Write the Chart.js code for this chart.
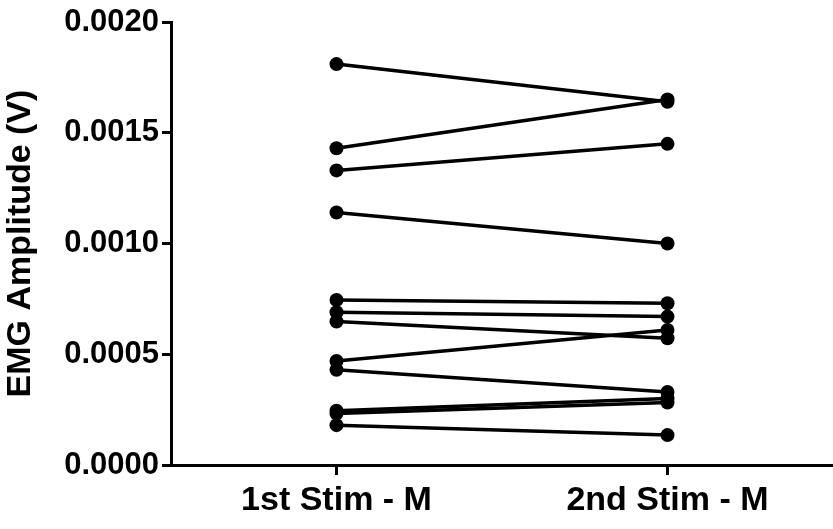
<!DOCTYPE html>
<html>
<head>
<meta charset="utf-8">
<script src="https://cdn.jsdelivr.net/npm/chart.js@4.4.1/dist/chart.umd.min.js"></script>
<style>
  html, body { margin: 0; padding: 0; background: #fff; }
  #wrap { width: 833px; height: 529px; }
</style>
</head>
<body>
<div id="wrap"><canvas id="chart" width="833" height="529"></canvas></div>
<script>
const categories = ["1st Stim - M", "2nd Stim - M"];
// one entry per subject: amplitude at 1st stim and at 2nd stim (V)
const firstStim  = [0.00181, 0.00143, 0.00133, 0.00114, 0.000745, 0.00069, 0.000648, 0.00047, 0.00043, 0.000245, 0.000232, 0.00018];
const secondStim = [0.00164, 0.00165, 0.00145, 0.00100, 0.00073, 0.00067, 0.000572, 0.00061, 0.00033, 0.000300, 0.000282, 0.000135];
const yTicks = [0, 0.0005, 0.0010, 0.0015, 0.0020];

const font = "'Liberation Sans', Arial, sans-serif";

const datasets = firstStim.map((v, i) => ({
  data: [v, secondStim[i]],
  borderColor: "#000",
  backgroundColor: "#000",
  borderWidth: 3.5,
  pointRadius: 7,
  pointHoverRadius: 7,
  pointBorderWidth: 0,
  tension: 0,
  clip: false,
}));

new Chart(document.getElementById("chart").getContext("2d"), {
  type: "line",
  data: { labels: categories, datasets },
  options: {
    responsive: false,
    animation: false,
    layout: { autoPadding: false, padding: { top: 22, right: 0, left: 0, bottom: 0 } },
    plugins: { legend: { display: false }, tooltip: { enabled: false } },
    scales: {
      x: {
        offset: true,
        grid: { offset: false, drawOnChartArea: false, drawTicks: true, tickLength: 10, lineWidth: 3, color: "#000" },
        border: { display: true, width: 3, color: "#000" },
        ticks: { color: "#000", padding: 5, font: { family: font, weight: "bold", size: 34 } },
        afterFit: s => { s.height = 64; },
      },
      y: {
        min: 0,
        max: 0.002,
        afterBuildTicks: s => { s.ticks = yTicks.map(v => ({ value: v })); },
        grid: { drawOnChartArea: false, drawTicks: true, tickLength: 9, lineWidth: 3, color: "#000" },
        border: { display: true, width: 3, color: "#000" },
        ticks: { color: "#000", padding: 3, callback: v => Number(v).toFixed(4), font: { family: font, weight: "bold", size: 31 } },
        title: { display: true, text: "EMG Amplitude (V)", color: "#000", padding: { top: 0, bottom: 4 }, font: { family: font, weight: "bold", size: 34 } },
        afterFit: s => { s.width = 171; },
      },
    },
  },
});
</script>
</body>
</html>
